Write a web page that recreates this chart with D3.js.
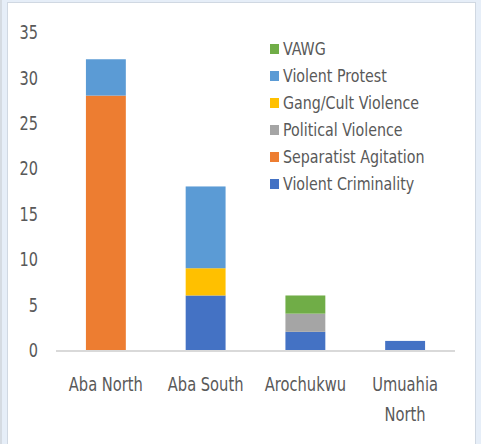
<!DOCTYPE html>
<html><head><meta charset="utf-8">
<script src="https://cdn.jsdelivr.net/npm/d3@7"></script>
<style>body{margin:0;background:#fff}svg{display:block}</style>
</head><body>
<svg id="c" width="481" height="444"></svg>
<script>
const categories = ["Aba North", "Aba South", "Arochukwu", "Umuahia North"];
const seriesNames = ["Violent Criminality", "Separatist Agitation", "Political Violence", "Gang/Cult Violence", "Violent Protest", "VAWG"];
const violentCriminality = [0, 6, 2, 1];
const separatistAgitation = [28, 0, 0, 0];
const politicalViolence = [0, 0, 2, 0];
const gangCultViolence = [0, 3, 0, 0];
const violentProtest = [4, 9, 0, 0];
const vawg = [0, 0, 2, 0];
const yTicks = [0, 5, 10, 15, 20, 25, 30, 35];
const colors = ["#4472C4", "#ED7D31", "#A5A5A5", "#FFC000", "#5B9BD5", "#70AD47"];

const seriesValues = [violentCriminality, separatistAgitation, politicalViolence, gangCultViolence, violentProtest, vawg];
const table = categories.map((c, i) => {
  const row = {cat: c};
  seriesNames.forEach((s, j) => row[s] = seriesValues[j][i]);
  return row;
});

const svg = d3.select("#c");
const font = "'DejaVu Sans Condensed', 'Liberation Sans Narrow', 'Noto Sans', sans-serif";

// frame
svg.append("rect").attr("x", 0).attr("y", 0).attr("width", 481).attr("height", 444).attr("fill", "#e6eef8");
svg.append("rect").attr("x", 0).attr("y", 0).attr("width", 2).attr("height", 444).attr("fill", "#d5dbe2");
svg.append("rect").attr("x", 7.5).attr("y", 2.5).attr("width", 468).attr("height", 445).attr("fill", "#fff").attr("stroke", "#d0d8e2").attr("stroke-width", 1);

const x = d3.scaleBand().domain(categories).range([56, 455]).paddingInner(0.6).paddingOuter(0.3);
const y = d3.scaleLinear().domain([0, 35]).range([350, 32]);

const stack = d3.stack().keys(seriesNames);
const stacked = stack(table);

svg.append("g").selectAll("g").data(stacked).join("g")
  .attr("fill", (d, i) => colors[i])
  .selectAll("rect").data(d => d.filter(p => p[1] - p[0] > 0)).join("rect")
  .attr("x", d => x(d.data.cat))
  .attr("width", x.bandwidth())
  .attr("y", d => y(d[1]))
  .attr("height", d => y(d[0]) - y(d[1]));

// y axis labels
const yAxis = d3.axisLeft(y).tickValues(yTicks).tickSize(0).tickPadding(0);
const ya = svg.append("g").attr("transform", "translate(38,0)").call(yAxis);
ya.select(".domain").remove();
ya.selectAll("text").attr("font-family", font).attr("font-size", 19).attr("fill", "#595959").attr("dy", "0.35em")
  .attr("transform", "scale(0.85,1)");

// baseline
svg.append("line").attr("x1", 56).attr("x2", 455).attr("y1", y(0) + 1).attr("y2", y(0) + 1)
  .attr("stroke", "#d9d9d9").attr("stroke-width", 2);

// x axis labels
const xAxis = d3.axisBottom(x).tickSize(0).tickPadding(0);
const xa = svg.append("g").attr("transform", "translate(0,391)").call(xAxis);
xa.select(".domain").remove();
xa.selectAll("text").attr("font-family", font).attr("font-size", 19).attr("fill", "#595959").attr("dy", 0)
  .attr("transform", "scale(0.86,1)")
  .each(function(d) {
    const t = d3.select(this);
    if (d === "Umuahia North") {
      t.text(null);
      t.append("tspan").attr("x", 0).attr("dy", 0).text("Umuahia");
      t.append("tspan").attr("x", 0).attr("dy", 30).text("North");
    }
  });

// legend
const legendOrder = seriesNames.map((s, i) => ({s, c: colors[i]})).reverse();
const lg = svg.append("g").selectAll("g").data(legendOrder).join("g")
  .attr("transform", (d, i) => `translate(270,${49 + i * 27})`);
lg.append("rect").attr("x", 0).attr("y", -5).attr("width", 9).attr("height", 10).attr("fill", d => d.c);
lg.append("g").attr("transform", "translate(13,0) scale(0.88,1)")
  .append("text").attr("x", 0).attr("y", 0).attr("dy", "0.35em").attr("font-family", font).attr("font-size", 18)
  .attr("fill", "#595959").text(d => d.s);
</script>
</body></html>
